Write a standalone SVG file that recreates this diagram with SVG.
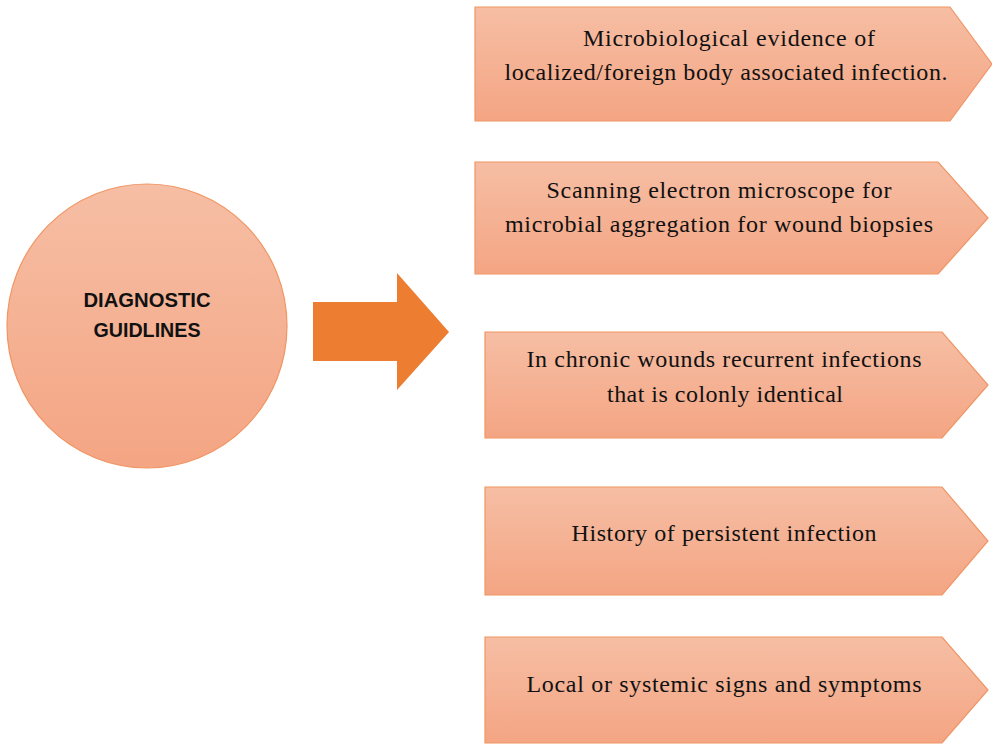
<svg xmlns="http://www.w3.org/2000/svg" width="992" height="744" viewBox="0 0 992 744">
  <defs>
    <linearGradient id="fillV" x1="0" y1="0" x2="0" y2="1">
      <stop offset="0" stop-color="#F6BEA4"/>
      <stop offset="1" stop-color="#F4A583"/>
    </linearGradient>
    <style>
      .shape { fill: url(#fillV); stroke: #F09563; stroke-width: 1.2; }
      .item { font-family: "Liberation Serif", "Times New Roman", serif; font-size: 24px; fill: #111; text-anchor: middle; }
      .hub { font-family: "Liberation Sans", Arial, sans-serif; font-size: 20px; font-weight: bold; fill: #111; text-anchor: middle; }
    </style>
  </defs>
  <rect width="992" height="744" fill="#fff"/>

  <g id="hub">
    <ellipse class="shape" cx="147" cy="326" rx="140" ry="142"/>
    <text class="hub" x="147" y="307" textLength="127" lengthAdjust="spacingAndGlyphs">DIAGNOSTIC</text>
    <text class="hub" x="147" y="337" textLength="107" lengthAdjust="spacingAndGlyphs">GUIDLINES</text>
  </g>

  <g id="connectors">
    <polygon points="313,302 397,302 397,273 449,332 397,390 397,361 313,361" fill="#ED7D31"/>
  </g>

  <g id="item1">
    <polygon class="shape" points="475,7 950,7 992,64 950,121 475,121"/>
    <text class="item" x="729" y="46" textLength="292" lengthAdjust="spacing">Microbiological evidence of</text>
    <text class="item" x="726" y="80" textLength="443" lengthAdjust="spacing">localized/foreign body associated infection.</text>
  </g>

  <g id="item2">
    <polygon class="shape" points="475,162 938,162 988,218 938,274 475,274"/>
    <text class="item" x="719" y="198" textLength="345" lengthAdjust="spacing">Scanning electron microscope for</text>
    <text class="item" x="719" y="232" textLength="428" lengthAdjust="spacing">microbial aggregation for wound biopsies</text>
  </g>

  <g id="item3">
    <polygon class="shape" points="485,332 942,332 988,385 942,438 485,438"/>
    <text class="item" x="724" y="367" textLength="395" lengthAdjust="spacing">In chronic wounds recurrent infections</text>
    <text class="item" x="725" y="402" textLength="236" lengthAdjust="spacing">that is colonly identical</text>
  </g>

  <g id="item4">
    <polygon class="shape" points="485,487 942,487 988,541 942,595 485,595"/>
    <text class="item" x="724" y="541" textLength="305" lengthAdjust="spacing">History of persistent infection</text>
  </g>

  <g id="item5">
    <polygon class="shape" points="485,637 942,637 988,690 942,743 485,743"/>
    <text class="item" x="724" y="692" textLength="395" lengthAdjust="spacing">Local or systemic signs and symptoms</text>
  </g>
</svg>
